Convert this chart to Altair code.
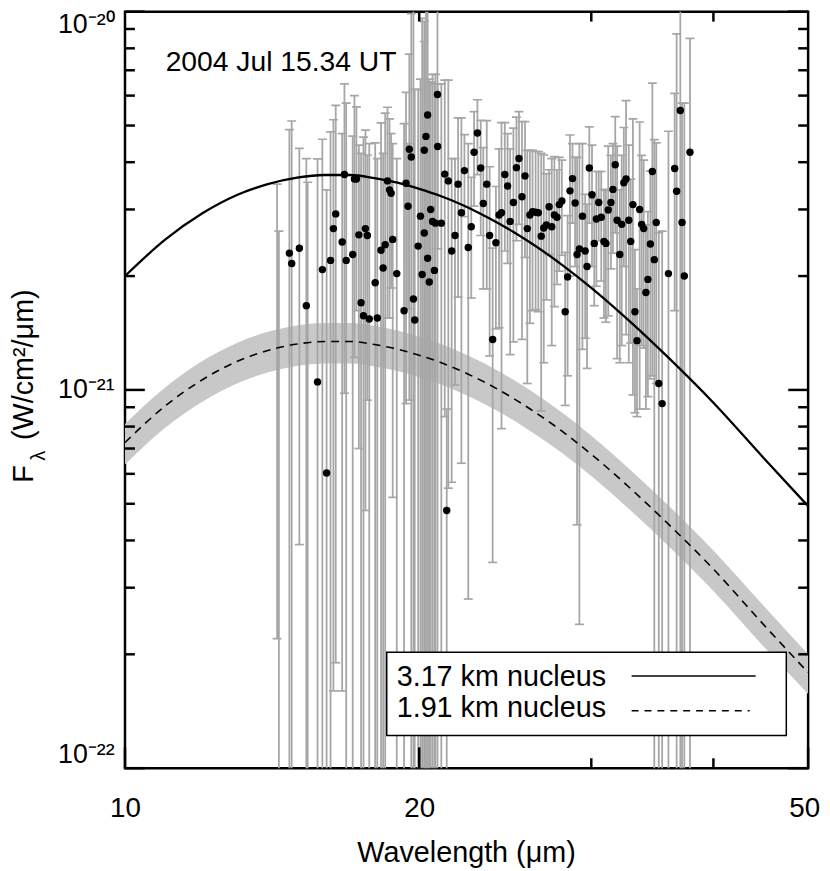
import altair as alt
import pandas as pd

# ---------------------------------------------------------------- data
UNIT = 1e-21  # flux values below are in units of 1e-21 W/cm^2/um

wl = [14.73, 14.81, 15.08, 15.33, 15.74, 15.92, 16.08, 16.23, 16.34, 16.43,
      16.68, 16.77, 16.84, 17.10, 17.17, 17.25, 17.35, 17.44, 17.54, 17.62,
      17.70, 17.78, 18.03, 18.12, 18.28, 18.37, 18.46, 18.56, 18.65, 18.72,
      18.79, 18.97, 19.30, 19.39, 19.48, 19.54, 19.63, 19.73, 19.79, 19.95,
      20.06, 20.14, 20.24, 20.24, 20.32, 20.40, 20.40, 20.48, 20.55, 20.64,
      20.73, 20.78, 20.88, 20.89, 21.07, 21.24, 21.34, 21.42, 21.59, 21.76,
      21.92, 22.09, 22.25, 22.45, 22.61, 22.76, 22.94, 23.12, 23.26, 23.45,
      23.61, 23.78, 23.96, 24.14, 24.28, 24.47, 24.63, 24.78, 24.97, 25.15,
      25.30, 25.48, 25.66, 25.80, 25.96, 26.12, 26.31, 26.48, 26.66, 26.82,
      26.99, 27.16, 27.33, 27.50, 27.67, 27.82, 27.99, 28.21, 28.37, 28.53,
      28.70, 28.88, 29.01, 29.17, 29.38, 29.57, 29.70, 29.86, 30.05, 30.21,
      30.36, 30.53, 30.71, 30.91, 31.05, 31.22, 31.42, 31.57, 31.74, 31.88,
      32.08, 32.23, 32.39, 32.56, 32.77, 32.92, 33.09, 33.25, 33.41, 33.62,
      33.78, 33.94, 34.12, 34.28, 34.48, 34.64, 34.80, 34.96, 35.17, 35.45,
      35.98, 36.51, 36.68, 37.00, 37.15, 37.35, 37.85]

flux = [2.30, 2.16, 2.37, 1.67, 1.05, 2.08, 0.603, 2.20, 2.67, 2.92,
        2.46, 3.71, 2.20, 2.28, 3.61, 3.61, 2.57, 1.70, 1.57, 2.67,
        2.56, 1.54, 1.92, 1.55, 2.34, 2.10, 2.42, 3.57, 3.38, 3.31,
        2.50, 2.03, 1.62, 3.52, 3.06, 4.33, 4.13, 1.74, 1.53, 2.40,
        2.88, 2.02, 2.60, 4.30, 4.68, 5.33, 2.23, 1.93, 3.00, 2.79,
        2.07, 2.76, 6.04, 4.40, 2.76, 3.72, 0.48, 3.57, 2.33, 2.56,
        3.50, 2.94, 3.80, 2.38, 2.70, 4.25, 4.78, 3.86, 3.11, 3.50,
        2.56, 1.36, 2.45, 2.90, 2.94, 3.71, 3.46, 2.79, 3.13, 3.87,
        4.09, 3.24, 3.68, 2.67, 2.90, 2.96, 2.95, 2.94, 2.55, 2.68,
        2.73, 3.05, 2.70, 2.90, 2.86, 3.09, 3.16, 1.61, 1.99, 3.36,
        3.62, 3.12, 2.28, 2.36, 2.88, 2.33, 2.12, 3.86, 3.28, 2.44,
        2.83, 3.13, 2.86, 2.47, 2.44, 2.99, 3.13, 3.39, 3.94, 2.81,
        2.28, 2.74, 3.53, 3.61, 2.81, 2.47, 3.09, 1.61, 1.35, 3.00,
        2.74, 2.67, 1.81, 1.96, 2.43, 3.78, 2.21, 2.77, 1.04, 0.92,
        2.03, 3.85, 3.35, 5.48, 2.77, 2.00, 4.25]

# upper end of each error bar (bars are symmetric about the point)
flux_hi = [4.88, 5.14, 4.35, 4.09, 4.08, 4.60, 3.38, 4.81, 5.18, 5.65,
           4.76, 6.44, 5.73, 4.69, 6.00, 5.60, 4.44, 4.22, 4.66, 4.86,
           4.18, 4.48, 4.50, 4.09, 5.08, 4.22, 5.39, 5.59, 5.21, 4.76,
           4.48, 4.09, 5.06, 6.12, 4.48, 7.72, 9.88, 11.0, 6.23, 6.23,
           6.63, 9.60, 8.34, 9.43, 11.5, 12.0, 6.51, 6.63, 6.51, 6.83,
           6.44, 6.83, 12.5, 6.44, 6.44, 6.59, 0.89, 6.59, 4.09, 4.09,
           5.24, 5.24, 4.73, 4.48, 3.65, 5.44, 5.85, 5.16, 4.37, 5.15,
           3.89, 2.37, 3.45, 4.34, 5.09, 5.09, 4.76, 4.34, 4.92, 5.26,
           5.44, 5.12, 5.12, 4.30, 4.30, 4.30, 4.27, 4.27, 4.22, 4.18,
           3.73, 3.82, 4.09, 4.14, 3.82, 4.12, 4.05, 2.31, 2.89, 4.72,
           4.48, 4.12, 4.12, 4.48, 4.48, 3.29, 3.10, 4.96, 4.44, 3.21,
           3.78, 3.78, 3.78, 3.39, 3.37, 4.41, 4.17, 4.48, 5.28, 4.41,
           3.38, 4.17, 4.94, 5.82, 4.44, 3.61, 5.21, 2.35, 1.85, 5.11,
           4.17, 4.05, 2.73, 2.96, 3.79, 6.47, 4.59, 4.50, 2.60, 2.63,
           4.83, 6.08, 8.74, 12.0, 5.73, 5.73, 8.50]

# error bars whose points fall below the plotted range
orphan_wl = [14.31, 14.37, 15.38]
orphan_hi = [3.50, 2.63, 3.54]
orphan_lo = [0.22, 0.0, 0.0]

# thermal model curves
model_wl = [10, 11, 12, 13, 14, 15, 16, 17, 18, 19, 20, 21, 22, 23, 24, 25,
            26, 28, 30, 33, 36, 40, 45, 50]
model_317 = [2.00, 2.50, 2.93, 3.27, 3.50, 3.64, 3.70, 3.70, 3.63, 3.53, 3.40,
             3.26, 3.105, 2.942, 2.776, 2.611, 2.449, 2.142, 1.862, 1.502,
             1.215, 0.925, 0.662, 0.493]
model_191 = [0.726, 0.908, 1.064, 1.187, 1.271, 1.322, 1.343, 1.343, 1.318,
             1.282, 1.235, 1.184, 1.127, 1.068, 1.008, 0.948, 0.889, 0.778,
             0.676, 0.545, 0.441, 0.336, 0.240, 0.179]
band_hi = [0.813, 1.017, 1.192, 1.329, 1.424, 1.481, 1.504, 1.504, 1.476,
           1.436, 1.383, 1.326, 1.262, 1.196, 1.129, 1.062, 0.996, 0.871,
           0.757, 0.610, 0.494, 0.376, 0.269, 0.200]
band_lo = [0.635, 0.795, 0.931, 1.039, 1.112, 1.157, 1.175, 1.175, 1.153,
           1.122, 1.081, 1.036, 0.986, 0.935, 0.882, 0.830, 0.778, 0.681,
           0.592, 0.477, 0.386, 0.294, 0.210, 0.157]

# axis ticks
x_tick_labels = [10, 20, 50]
x_ticks_major = [10, 20, 50]
x_ticks_minor = [30, 40]
x_ticks_top = [20, 30, 40]
y_tick_labels = [1e-22, 1e-21, 1e-20]
y_ticks_major = [1e-22, 1e-21, 1e-20]
y_ticks_minor = [2e-22, 3e-22, 4e-22, 5e-22, 6e-22, 7e-22, 8e-22, 9e-22,
                 2e-21, 3e-21, 4e-21, 5e-21, 6e-21, 7e-21, 8e-21, 9e-21]

date_label = "2004 Jul 15.34 UT"
legend_labels = ["3.17 km nucleus", "1.91 km nucleus"]
x_title = "Wavelength (μm)"

# ---------------------------------------------------------------- tables
FLOOR = 0.01  # lower ends below the axis are drawn to the bottom edge
points = pd.DataFrame({
    "wl": wl,
    "f": [v * UNIT for v in flux],
    "hi": [h * UNIT for h in flux_hi],
    "lo": [max(2 * v - h, FLOOR) * UNIT for v, h in zip(flux, flux_hi)],
})
orphans = pd.DataFrame({
    "wl": orphan_wl,
    "hi": [h * UNIT for h in orphan_hi],
    "lo": [max(l, FLOOR) * UNIT for l in orphan_lo],
})
bars = pd.concat([points[["wl", "hi", "lo"]], orphans], ignore_index=True)
curves = pd.DataFrame({
    "wl": model_wl,
    "m317": [v * UNIT for v in model_317],
    "m191": [v * UNIT for v in model_191],
    "bhi": [v * UNIT for v in band_hi],
    "blo": [v * UNIT for v in band_lo],
})
one = pd.DataFrame({"k": [0]})

# ---------------------------------------------------------------- style
W, H = 689, 763
FONT = "Liberation Sans"
BAR_GRAY = "#a6a6a6"

xs = alt.Scale(type="log", domain=[10, 50], nice=False)
ys = alt.Scale(type="log", domain=[1e-22, 1e-20], nice=False)

xax = alt.Axis(values=x_tick_labels, ticks=False, domain=False, grid=False,
               labelFontSize=28, labelPadding=27, labelFlush=False,
               labelOffset={"condition": {"test": "datum.value == 50", "value": -4},
                            "value": 0},
               labelFont=FONT, labelColor="black", format="d", title=None)
yexpr = ("round(log(datum.value)/LN10) == -22 ? '10⁻²²' : "
         "round(log(datum.value)/LN10) == -21 ? '10⁻²¹' : '10⁻²⁰'")
yax = alt.Axis(values=y_tick_labels, ticks=False, domain=False, grid=False,
               labelFontSize=27, labelPadding=11, labelFlush=True,
               labelFont=FONT, labelColor="black", labelExpr=yexpr, title=None)


def X(field):
    return alt.X(f"{field}:Q", scale=xs, axis=xax)


def Y(field):
    return alt.Y(f"{field}:Q", scale=ys, axis=yax)


band = alt.Chart(curves).mark_area(color="#c8c8c8", interpolate="monotone",
                                   clip=True).encode(x=X("wl"), y=Y("bhi"), y2="blo")
errbars = alt.Chart(bars).mark_rule(color=BAR_GRAY, strokeWidth=1.8, clip=True).encode(
    x=X("wl"), y=Y("hi"), y2="lo")
caps_hi = alt.Chart(bars).mark_tick(orient="horizontal", size=9, thickness=1.7,
                                    color=BAR_GRAY, opacity=1, clip=True).encode(
    x=X("wl"), y=Y("hi"))
caps_lo = alt.Chart(bars).mark_tick(orient="horizontal", size=9, thickness=1.7,
                                    color=BAR_GRAY, opacity=1, clip=True).encode(
    x=X("wl"), y=Y("lo"))
dashed = alt.Chart(curves).mark_line(color="black", strokeWidth=1.6, strokeDash=[8, 6],
                                     interpolate="monotone", clip=True).encode(
    x=X("wl"), y=Y("m191"))
solid = alt.Chart(curves).mark_line(color="black", strokeWidth=2.3,
                                    interpolate="monotone", clip=True).encode(
    x=X("wl"), y=Y("m317"))
dots = alt.Chart(points).mark_circle(size=56, color="black", opacity=1, clip=True).encode(
    x=X("wl"), y=Y("f"))

# inward tick marks
tk = dict(color="black", strokeWidth=2.5)
xt_major = alt.Chart(pd.DataFrame({"v": x_ticks_major})).mark_rule(**tk).encode(
    x=X("v"), y=alt.value(H - 21), y2=alt.value(H))
xt_minor = alt.Chart(pd.DataFrame({"v": x_ticks_minor})).mark_rule(**tk).encode(
    x=X("v"), y=alt.value(H - 10), y2=alt.value(H))
xt_top = alt.Chart(pd.DataFrame({"v": x_ticks_top})).mark_rule(**tk).encode(
    x=X("v"), y=alt.value(0), y2=alt.value(10))
yt_major_l = alt.Chart(pd.DataFrame({"v": y_ticks_major})).mark_rule(**tk).encode(
    y=Y("v"), x=alt.value(0), x2=alt.value(20))
yt_minor_l = alt.Chart(pd.DataFrame({"v": y_ticks_minor})).mark_rule(**tk).encode(
    y=Y("v"), x=alt.value(0), x2=alt.value(10))
yt_major_r = alt.Chart(pd.DataFrame({"v": y_ticks_major})).mark_rule(**tk).encode(
    y=Y("v"), x=alt.value(W - 20), x2=alt.value(W))
yt_minor_r = alt.Chart(pd.DataFrame({"v": y_ticks_minor})).mark_rule(**tk).encode(
    y=Y("v"), x=alt.value(W - 10), x2=alt.value(W))

# legend box
leg_box = alt.Chart(one).mark_rect(fill="white", stroke="black", strokeWidth=1.5).encode(
    x=alt.value(264), x2=alt.value(667), y=alt.value(646), y2=alt.value(730))
leg_t1 = alt.Chart(one).mark_text(align="left", baseline="alphabetic", fontSize=29,
                                  font=FONT, color="black").encode(
    x=alt.value(274), y=alt.value(680), text=alt.value(legend_labels[0]))
leg_t2 = alt.Chart(one).mark_text(align="left", baseline="alphabetic", fontSize=29,
                                  font=FONT, color="black").encode(
    x=alt.value(274), y=alt.value(711), text=alt.value(legend_labels[1]))
leg_l1 = alt.Chart(one).mark_rule(color="black", strokeWidth=1.5).encode(
    x=alt.value(511), x2=alt.value(636), y=alt.value(670))
leg_l2 = alt.Chart(one).mark_rule(color="black", strokeWidth=1.5, strokeDash=[7, 6]).encode(
    x=alt.value(511), x2=alt.value(630), y=alt.value(705))

date_txt = alt.Chart(one).mark_text(align="left", baseline="alphabetic", fontSize=28.5,
                                    font=FONT, color="black").encode(
    x=alt.value(41), y=alt.value(60), text=alt.value(date_label))

xtitle = alt.Chart(one).mark_text(align="center", baseline="alphabetic", fontSize=29,
                                  font=FONT, color="black").encode(
    x=alt.value(W / 2), y=alt.value(858), text=alt.value(x_title))
yt_F = alt.Chart(one).mark_text(align="left", baseline="alphabetic", fontSize=29, angle=270,
                                font=FONT, color="black").encode(
    x=alt.value(-93), y=alt.value(475), text=alt.value("F"))
yt_lam = alt.Chart(one).mark_text(align="left", baseline="alphabetic", fontSize=20, angle=270,
                                  font=FONT, color="black").encode(
    x=alt.value(-81), y=alt.value(453), text=alt.value("λ"))
yt_unit = alt.Chart(one).mark_text(align="left", baseline="alphabetic", fontSize=29, angle=270,
                                   font=FONT, color="black").encode(
    x=alt.value(-93), y=alt.value(432), text=alt.value("(W/cm²/μm)"))

chart = alt.layer(
    band, errbars, caps_hi, caps_lo, dashed, solid, dots,
    leg_box, leg_t1, leg_t2, leg_l1, leg_l2, date_txt,
    xt_major, xt_minor, xt_top, yt_major_l, yt_minor_l, yt_major_r, yt_minor_r,
    xtitle, yt_F, yt_lam, yt_unit,
).properties(
    width=W, height=H,
    autosize=alt.AutoSizeParams(type="none"),
    padding={"left": 118, "top": 0, "right": 14, "bottom": 100},
).configure_view(stroke="black", strokeWidth=2.5)

chart.save("out.html", embed_options={"renderer": "svg", "actions": False})
